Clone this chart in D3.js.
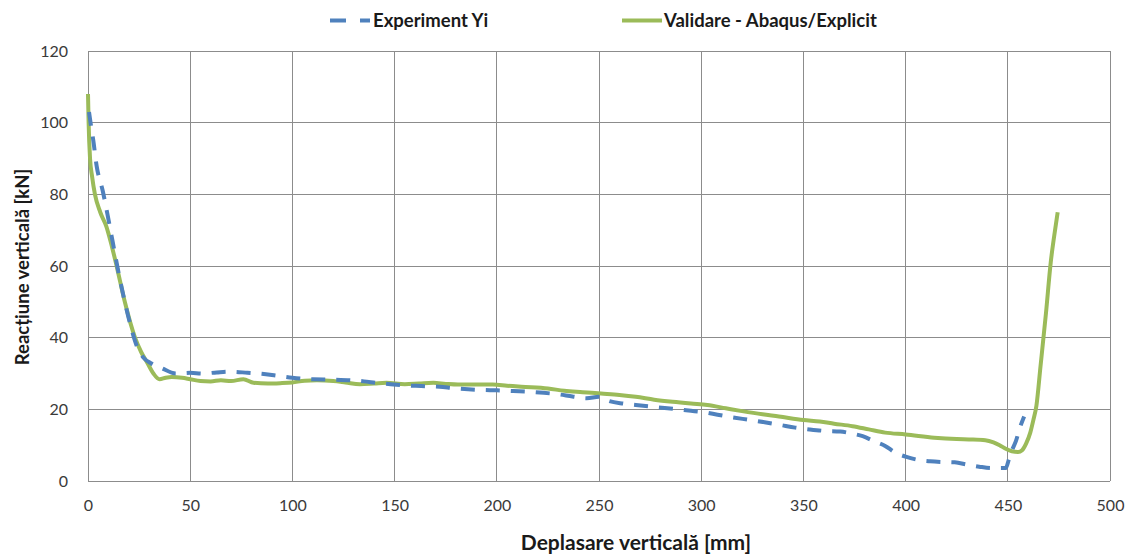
<!DOCTYPE html>
<html>
<head>
<meta charset="utf-8">
<script src="https://cdn.jsdelivr.net/npm/d3@7/dist/d3.min.js"></script>
<style>
  html, body { margin: 0; padding: 0; background: #fff; }
  svg { display: block; }
  text { font-family: Lato, "Liberation Sans", sans-serif; }
</style>
</head>
<body>
<svg id="chart" width="1130" height="554"></svg>
<script>
// Experimental curve (displacement in mm, reaction in kN)
const expX = [0.5, 1.5, 2.6, 4.2, 7.2, 10, 12, 15, 18, 21, 24, 27, 31, 36, 43, 50, 56, 63, 70, 78, 85, 92, 100,
  110, 120, 129, 135, 141, 148, 155, 163, 172, 179, 186, 193, 200, 208, 216, 223, 230, 237, 244, 250, 255,
  262, 268, 278, 287, 295, 301, 308, 315, 323, 331, 339, 346, 353, 360, 368, 374, 379, 385, 390, 395, 400,
  406, 412, 418, 424, 430, 436, 442, 449, 450.5, 452, 454, 456, 458];
const expY = [103, 99, 95, 88, 81, 73, 67, 58, 50, 43, 37.5, 34.5, 32.8, 31.5, 30, 30.2, 30, 30.3, 30.5, 30.2, 29.9, 29.4, 28.8,
  28.4, 28.3, 28.1, 27.8, 27.4, 27, 26.7, 26.5, 26.3, 25.9, 25.6, 25.4, 25.3, 25.1, 24.9, 24.6, 24.2, 23.6, 23.1, 23.5, 22.3,
  21.6, 21.2, 20.6, 20.1, 19.6, 19.2, 18.5, 17.8, 17.1, 16.4, 15.6, 14.9, 14.4, 14, 13.8, 13.2, 12.5, 11, 9.8, 7.9, 6.8,
  5.9, 5.5, 5.3, 5.2, 4.6, 4, 3.6, 3.6, 6, 8.5, 11.2, 15, 18];

// Abaqus/Explicit validation curve
const simX = [0, 0.3, 1, 2, 3.4, 6, 9, 11, 14, 18, 23, 26, 29, 32, 35, 38, 41, 46, 50, 55, 60, 65, 70, 76, 81, 88, 94, 100,
  106, 112, 120, 126, 133, 140, 146, 155, 162, 169, 175, 181, 190, 198, 205, 212, 225, 233, 242, 251, 260, 268, 277,
  286, 295, 303, 312, 320, 330, 338, 350, 358, 365, 374, 382, 390, 400, 414, 425, 431, 439, 443, 446, 449, 452, 455,
  457, 459, 461, 462.5, 464, 466, 468.7, 471, 472.7, 474.4];
const simY = [108, 100, 90, 85, 80, 75, 71, 67, 60, 50, 40, 36, 33, 30, 28.4, 28.8, 29, 28.8, 28.4, 27.9, 27.8, 28.1, 27.9, 28.4, 27.4, 27.2, 27.3, 27.5,
  28, 28.1, 27.9, 27.5, 27, 27.2, 27.4, 27, 27.2, 27.4, 27.1, 26.9, 26.9, 26.9, 26.6, 26.3, 25.8, 25.2, 24.8, 24.4, 24, 23.5, 22.7,
  22.1, 21.6, 21.2, 20.3, 19.5, 18.6, 18, 17, 16.6, 16, 15.3, 14.4, 13.5, 13, 12.1, 11.7, 11.6, 11.4, 10.8, 10, 9, 8.3, 8.1,
  8.6, 10.5, 13.5, 17, 21, 32, 47, 61, 68.4, 75];

const xTicks = [0, 50, 100, 150, 200, 250, 300, 350, 400, 450, 500];
const yTicks = [0, 20, 40, 60, 80, 100, 120];
const seriesNames = ["Experiment Yi", "Validare - Abaqus/Explicit"];
const xTitle = "Deplasare verticală [mm]";
const yTitle = "Reacțiune verticală [kN]";

const blue = "#4f81bd", green = "#9bbb59", gridColor = "#8c8c8c", labelColor = "#3a3a3a";

const svg = d3.select("#chart");
const plotLeft = 88, plotRight = 1110, plotTop = 51, plotBottom = 481;

const x = d3.scaleLinear().domain([0, 500]).range([plotLeft, plotRight]);
const y = d3.scaleLinear().domain([0, 120]).range([plotBottom, plotTop]);

// gridlines
svg.append("g").selectAll("line").data(xTicks).join("line")
  .attr("x1", d => x(d)).attr("x2", d => x(d))
  .attr("y1", plotTop).attr("y2", plotBottom)
  .attr("stroke", gridColor).attr("stroke-width", 1).attr("shape-rendering", "crispEdges");
svg.append("g").selectAll("line").data(yTicks).join("line")
  .attr("x1", plotLeft).attr("x2", plotRight)
  .attr("y1", d => y(d)).attr("y2", d => y(d))
  .attr("stroke", gridColor).attr("stroke-width", 1).attr("shape-rendering", "crispEdges");

// axes (labels only)
const xAxis = svg.append("g").attr("transform", `translate(0,${plotBottom})`)
  .call(d3.axisBottom(x).tickValues(xTicks).tickSize(0).tickPadding(19));
const yAxis = svg.append("g").attr("transform", `translate(${plotLeft},0)`)
  .call(d3.axisLeft(y).tickValues(yTicks).tickSize(0).tickPadding(20));
[xAxis, yAxis].forEach(a => {
  a.select(".domain").remove();
  a.selectAll("text").attr("font-family", "Lato, 'Liberation Sans', sans-serif")
    .attr("font-size", 16).attr("fill", labelColor);
});

// series
const line = d3.line().x(d => x(d[0])).y(d => y(d[1])).curve(d3.curveMonotoneX);
const simData = simX.map((v, i) => [v, simY[i]]);
const expData = expX.map((v, i) => [v, expY[i]]);

svg.append("path").datum(simData).attr("d", line)
  .attr("fill", "none").attr("stroke", green).attr("stroke-width", 4).attr("stroke-linejoin", "round");
svg.append("path").datum(expData).attr("d", line)
  .attr("fill", "none").attr("stroke", blue).attr("stroke-width", 4)
  .attr("stroke-dasharray", "14,11");

// axis titles
svg.append("text").attr("x", 636).attr("y", 550)
  .attr("text-anchor", "middle").attr("font-weight", "bold").attr("font-size", 21)
  .attr("fill", "#1a1a1a").text(xTitle);
svg.append("text").attr("transform", `translate(29,${(plotTop + plotBottom) / 2 + 1}) rotate(-90)`)
  .attr("text-anchor", "middle").attr("font-weight", "bold").attr("font-size", 18.5)
  .attr("fill", "#1a1a1a").text(yTitle);

// legend
const legend = [
  { name: seriesNames[0], color: blue, dash: "16,14", x0: 330, x1: 370, tx: 373 },
  { name: seriesNames[1], color: green, dash: null, x0: 622, x1: 662, tx: 664 }
];
legend.forEach(l => {
  svg.append("line").attr("x1", l.x0).attr("x2", l.x1).attr("y1", 20.5).attr("y2", 20.5)
    .attr("stroke", l.color).attr("stroke-width", 4)
    .attr("stroke-dasharray", l.dash);
  svg.append("text").attr("x", l.tx).attr("y", 27)
    .attr("font-weight", "bold").attr("font-size", 18.5).attr("fill", "#1a1a1a").text(l.name);
});
</script>
</body>
</html>
